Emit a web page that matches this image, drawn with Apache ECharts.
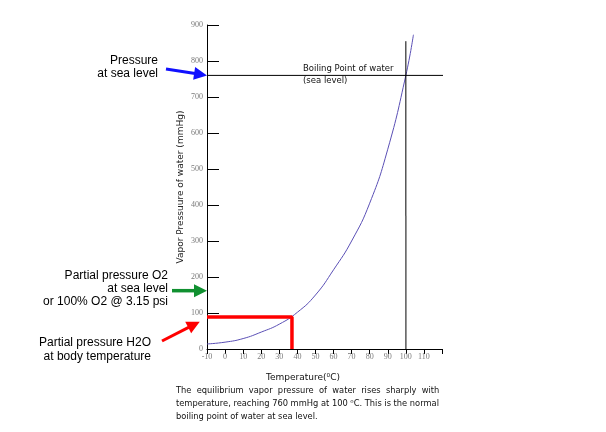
<!DOCTYPE html>
<html>
<head>
<meta charset="utf-8">
<script src="https://cdn.jsdelivr.net/npm/echarts@6/dist/echarts.min.js"></script>
<style>
  html, body { margin: 0; padding: 0; background: #fff; }
  #chart { width: 606px; height: 432px; }
</style>
</head>
<body>
<div id="chart"></div>
<script>
// values
const temps = [-10, 0, 10, 20, 30, 40, 50, 60, 70, 80, 90, 100, 104.2]
const pressures = [14, 19, 29, 47, 69, 102, 150, 220, 300, 405, 555, 760, 873]
const boilH = [[-10, 760], [126, 760]]
const boilV = [[100, 0], [100, 855]]
const boilVLow = [[100, 0], [100, 370]]
const bodyTemp = [[-10, 89], [37, 89], [37, 0]]
const xTickLabels = ['-10', '0', '10', '20', '30', '40', '50', '60', '70', '80', '90', '100', '110', '']

const chart = echarts.init(document.getElementById('chart'))

const tickFont = { color: '#7a7a7a', fontSize: 8, fontFamily: 'Liberation Serif' }

chart.setOption({
  animation: false,
  grid: { left: 207, right: 164, top: 25, bottom: 83 },
  xAxis: {
    type: 'value',
    min: -10,
    max: 120,
    interval: 10,
    axisLine: { onZero: false, lineStyle: { color: '#000', width: 1 } },
    axisTick: { show: true, length: 5, lineStyle: { color: '#000' } },
    axisLabel: {
      ...tickFont,
      margin: 4,
      formatter: (v) => xTickLabels[Math.round((v + 10) / 10)]
    },
    splitLine: { show: false }
  },
  yAxis: {
    type: 'value',
    min: 0,
    max: 900,
    interval: 100,
    name: 'Vapor Pressuure of water (mmHg)',
    nameLocation: 'middle',
    nameGap: 22,
    nameTextStyle: { color: '#222', fontSize: 9, fontFamily: 'DejaVu Sans' },
    axisLine: { show: true, onZero: false, lineStyle: { color: '#000', width: 1 } },
    axisTick: { show: true, inside: true, length: 12, lineStyle: { color: '#000' } },
    axisLabel: { ...tickFont, margin: 4 },
    splitLine: { show: false }
  },
  series: [
    {
      type: 'line',
      data: temps.map((t, i) => [t, pressures[i]]),
      smooth: 0.5,
      showSymbol: false,
      lineStyle: { color: '#5a4fb5', width: 1 }
    },
    {
      type: 'line',
      data: boilH,
      clip: false,
      showSymbol: false,
      lineStyle: { color: '#000', width: 1 }
    },
    {
      type: 'line',
      data: boilV,
      clip: false,
      showSymbol: false,
      lineStyle: { color: '#000', width: 1 }
    },
    {
      type: 'line',
      data: boilVLow,
      showSymbol: false,
      lineStyle: { color: '#777', width: 1 }
    },
    {
      type: 'line',
      data: bodyTemp,
      showSymbol: false,
      lineStyle: { color: '#ff0000', width: 3.5 },
      z: 3
    }
  ]
})

// arrow annotation: shaft + filled head, tip given in pixels
function arrow(tail, tip, color, width) {
  const dx = tip[0] - tail[0]
  const dy = tip[1] - tail[1]
  const len = Math.sqrt(dx * dx + dy * dy)
  const ux = dx / len
  const uy = dy / len
  const headLen = 13
  const headHalf = 6.5
  const bx = tip[0] - ux * headLen
  const by = tip[1] - uy * headLen
  return [
    {
      type: 'line',
      shape: { x1: tail[0], y1: tail[1], x2: bx + ux, y2: by + uy },
      style: { stroke: color, lineWidth: width }
    },
    {
      type: 'polygon',
      shape: {
        points: [tip, [bx - uy * headHalf, by + ux * headHalf], [bx + uy * headHalf, by - ux * headHalf]]
      },
      style: { fill: color }
    }
  ]
}

const px = (p) => chart.convertToPixel({ gridIndex: 0 }, p)
const blueTip = px([-10, 760])
const greenTip = px([-10, 162])
const redTip = px([-14, 76])

const noteFont = { fill: '#000', fontSize: 12, fontFamily: 'Liberation Sans', align: 'right', verticalAlign: 'middle' }
const smallFont = { fill: '#111', fontSize: 8.5, fontFamily: 'DejaVu Sans', verticalAlign: 'middle' }
const captionFont = { ...smallFont, fontSize: 8.3 }

chart.setOption({
  graphic: [
    ...arrow([166, 69], blueTip, '#1010ff', 3),
    ...arrow([172, greenTip[1]], greenTip, '#109030', 3.5),
    ...arrow([162, 341], redTip, '#ff0000', 3),
    { type: 'text', x: 158, y: 61, style: { ...noteFont, text: 'Pressure' } },
    { type: 'text', x: 158, y: 74, style: { ...noteFont, text: 'at sea level' } },
    { type: 'text', x: 168, y: 276, style: { ...noteFont, text: 'Partial pressure O2' } },
    { type: 'text', x: 168, y: 289, style: { ...noteFont, text: 'at sea level' } },
    { type: 'text', x: 168, y: 302, style: { ...noteFont, text: 'or 100% O2 @ 3.15 psi' } },
    { type: 'text', x: 151, y: 343, style: { ...noteFont, text: 'Partial pressure H2O' } },
    { type: 'text', x: 151, y: 357, style: { ...noteFont, text: 'at body temperature' } },
    { type: 'text', x: 303, y: 69, style: { ...smallFont, text: 'Boiling Point of water' } },
    { type: 'text', x: 303, y: 81, style: { ...smallFont, text: '(sea level)' } },
    { type: 'text', x: 303, y: 378, style: { ...smallFont, fontSize: 9, align: 'center', text: 'Temperature(\u2070C)' } },
    { type: 'text', x: 176, y: 391, style: { ...captionFont, text: 'The  equilibrium  vapor  pressure  of  water  rises  sharply  with' } },
    { type: 'text', x: 176, y: 404, style: { ...captionFont, text: 'temperature, reaching 760 mmHg at 100 \u2070C. This is the normal' } },
    { type: 'text', x: 176, y: 417, style: { ...captionFont, text: 'boiling point of water at sea level.' } }
  ]
})
</script>
</body>
</html>
